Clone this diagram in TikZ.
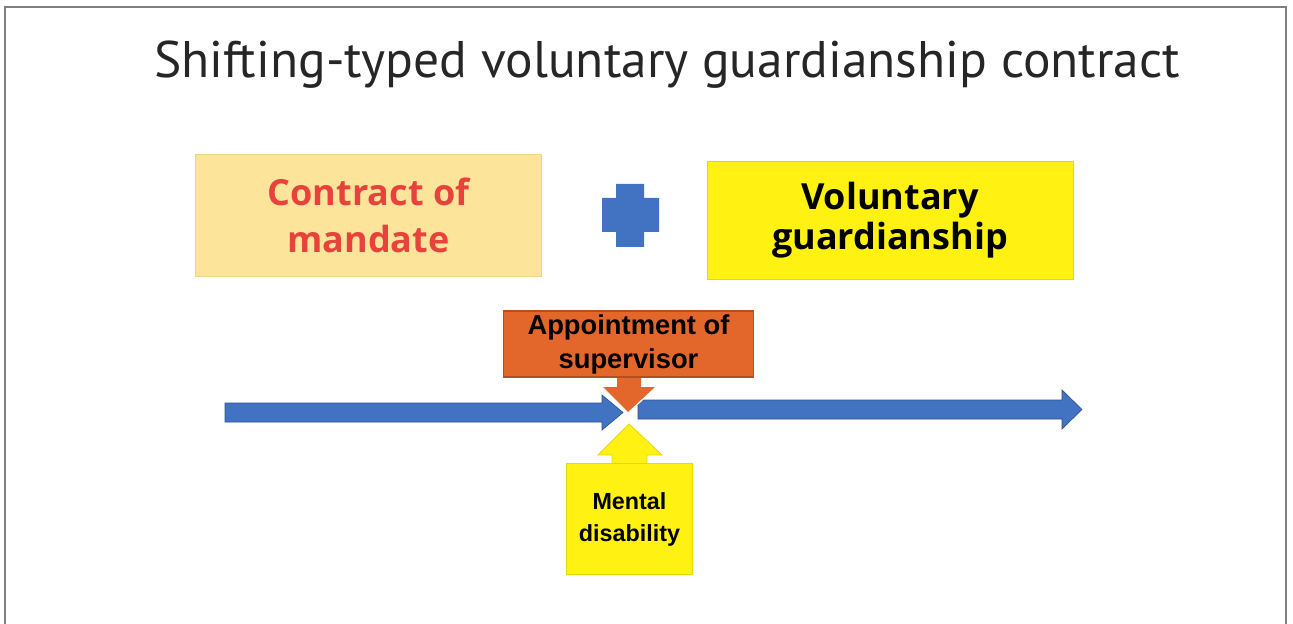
\documentclass[tikz,border=0pt]{standalone}
\usepackage{fontspec}
\setmainfont{Open Sans}
\newfontfamily\titlefont{PT Sans}
\newfontfamily\calloutfont{Liberation Sans}

\definecolor{framegray}{HTML}{7F7F7F}
\definecolor{titlegray}{HTML}{262626}
\definecolor{mandatefill}{HTML}{FCE59B}
\definecolor{mandateline}{HTML}{EED58A}
\definecolor{mandatered}{HTML}{E8423C}
\definecolor{guardyellow}{HTML}{FFF212}
\definecolor{guardline}{HTML}{E6D800}
\definecolor{arrowblue}{HTML}{4173C2}
\definecolor{arrowline}{HTML}{2F528F}
\definecolor{supervorange}{HTML}{E3662A}
\definecolor{supervline}{HTML}{B4501F}

\tikzset{
  bigbox/.style={rectangle, align=center, inner sep=0pt, line width=0.6pt,
    font=\bfseries\fontsize{27}{35}\selectfont},
  calloutbox/.style={rectangle, align=center, inner sep=0pt, line width=0.8pt,
    font=\calloutfont\bfseries},
  blockarrow/.style={fill=arrowblue, draw=arrowline, line width=0.5pt},
}

\begin{document}
\begin{tikzpicture}[x=0.75pt,y=-0.75pt]
  \useasboundingbox (0,0) rectangle (1293,624);
  \draw[framegray, line width=1.5pt] (5,624) -- (5,7) -- (1286,7) -- (1286,624);

  %title
  \node[anchor=base, text=titlegray, font=\titlefont\fontsize{38.6}{46}\selectfont] (title) at (667,78)
    {Shifting-typed voluntary guardianship contract};

  %the two parts of the contract
  \node[bigbox, fill=mandatefill, draw=mandateline, text=mandatered,
    minimum width=260pt, minimum height=91pt] (mandate) at (368.5,215.5) {Contract of\\mandate};
  \node[bigbox, fill=guardyellow, draw=guardline, text=black,
    font=\bfseries\fontsize{27}{30}\selectfont,
    minimum width=274.5pt, minimum height=89pt] (guardian) at (890,220.5) {Voluntary\\guardianship};

  %plus sign
  \fill[arrowblue] (616,184) -- (644,184) -- (644,198) -- (659,198) -- (659,232) -- (644,232)
    -- (644,247) -- (616,247) -- (616,232) -- (602,232) -- (602,198) -- (616,198) -- cycle;

  %time line before and after
  \draw[blockarrow] (225,403) -- (602,403) -- (602,395) -- (623,412.5) -- (602,430) -- (602,422)
    -- (225,422) -- cycle;
  \draw[blockarrow] (638,400) -- (1062,400) -- (1062,390) -- (1082,409.5) -- (1062,429)
    -- (1062,419) -- (638,419) -- cycle;

  %appointment callout
  \draw[white, line width=2pt, fill=supervorange] (617,372) -- (641,372) -- (641,387) -- (655,387)
    -- (628,412) -- (603,387) -- (617,387) -- cycle;
  \fill[supervorange] (617,372) -- (641,372) -- (641,387) -- (655,387) -- (628,412) -- (603,387)
    -- (617,387) -- cycle;
  \node[calloutbox, fill=supervorange, draw=supervline, minimum width=188pt, minimum height=49.5pt,
    font=\calloutfont\bfseries\fontsize{20.5}{25.5}\selectfont] (supervisor) at (628.5,344)
    {Appointment of\\supervisor};

  %mental disability callout
  \draw[guardline, line width=0.6pt, fill=guardyellow] (612,466) -- (612,455) -- (598,455)
    -- (629,424) -- (662,455) -- (647,455) -- (647,466);
  \node[calloutbox, fill=guardyellow, draw=guardline, minimum width=95pt, minimum height=83pt,
    font=\calloutfont\bfseries\fontsize{17.5}{24}\selectfont] (disability) at (629.5,519)
    {Mental\\disability};
\end{tikzpicture}
\end{document}
